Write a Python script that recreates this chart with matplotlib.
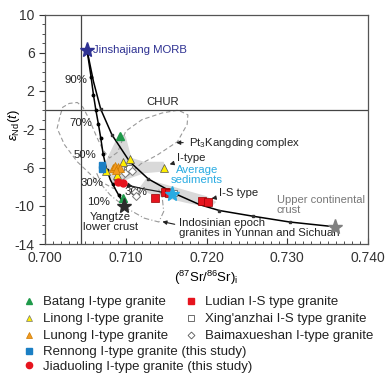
import numpy as np
import matplotlib
matplotlib.use("Agg")
import matplotlib.pyplot as plt
from matplotlib.lines import Line2D

plt.rcParams['font.family'] = ['Liberation Sans', 'DejaVu Sans']
plt.rcParams['axes.unicode_minus'] = False
plt.rcParams['mathtext.fontset'] = 'custom'
plt.rcParams['mathtext.rm'] = 'Liberation Sans'
plt.rcParams['mathtext.it'] = 'Liberation Sans:italic'

# ---- end members ----
morb = (0.7052, 6.3)
lower_crust = (0.7098, -10.0)
upper_crust = (0.7359, -12.2)
avg_sed = (0.7157, -8.8)

# ---- mixing curves ----
curveA_x = [0.7052, 0.7057, 0.7060, 0.7063, 0.7066, 0.7069, 0.7072, 0.7076, 0.7081, 0.7088, 0.7094, 0.7098]
curveA_y = [6.3, 3.5, 1.6, 0.0, -1.4, -2.9, -4.6, -6.1, -7.3, -8.4, -9.3, -10.0]
dotsA_x = [0.7057, 0.7060, 0.7063, 0.7066, 0.7069, 0.7072, 0.7077, 0.7084, 0.7092]
dotsA_y = [3.5, 1.6, 0.0, -1.4, -2.9, -4.6, -6.3, -7.7, -8.9]

curveC_x = [0.7052, 0.7060, 0.7069, 0.7083, 0.7105, 0.7128, 0.7160, 0.7192, 0.7216, 0.7258, 0.7303, 0.7359]
curveC_y = [6.3, 3.0, 0.1, -2.6, -5.4, -7.2, -8.7, -9.9, -10.5, -11.1, -11.7, -12.2]
dotsC_x = [0.7069, 0.7083, 0.7105, 0.7128, 0.7160, 0.7216, 0.7258, 0.7303]
dotsC_y = [0.1, -2.6, -5.4, -7.2, -8.7, -10.5, -11.1, -11.7]

curveD_x = [0.7086, 0.7100, 0.7120, 0.7140, 0.7157]
curveD_y = [-7.3, -7.8, -8.2, -8.5, -8.8]

# ---- fields ----
grey1_x = [0.7092, 0.7100, 0.7107, 0.7123, 0.7147, 0.7150, 0.7123, 0.7106, 0.7094, 0.7081, 0.7077, 0.7075, 0.7083]
grey1_y = [-2.4, -2.75, -5.0, -5.4, -5.4, -6.4, -6.6, -7.1, -7.6, -7.5, -6.4, -5.4, -4.0]
grey2_x = [0.7125, 0.7150, 0.7175, 0.7200, 0.7212, 0.7205, 0.7175, 0.7150, 0.7128, 0.7118]
grey2_y = [-7.2, -7.8, -8.4, -9.0, -9.6, -10.2, -9.7, -9.2, -8.7, -8.0]

kangding_x = [0.7019, 0.7022, 0.7030, 0.7040, 0.7047, 0.7055, 0.7064, 0.7072, 0.7080, 0.7090, 0.7100,
              0.7120, 0.7145, 0.7165, 0.7177, 0.7176, 0.7164, 0.7139, 0.7119, 0.7100, 0.7085, 0.7061,
              0.7040, 0.7024, 0.7015, 0.7019]
kangding_y = [-0.5, 0.3, 0.7, 0.8, 0.3, -1.0, -2.8, -4.2, -5.0, -4.4, -2.2,
              -1.0, -0.3, 0.0, -0.5, -1.5, -3.3, -4.7, -5.6, -7.0, -8.2, -7.1,
              -5.4, -3.6, -1.9, -0.5]
indo_x = [0.7064, 0.7071, 0.7081, 0.7102, 0.7123, 0.7141, 0.7147, 0.7145, 0.7140]
indo_y = [-6.6, -7.9, -8.9, -10.3, -11.3, -11.7, -10.6, -9.0, -8.2]

# ---- samples ----
batang_x = [0.7093, 0.7097]
batang_y = [-2.75, -9.2]
linong_x = [0.7076, 0.7089, 0.7097, 0.7105, 0.7147]
linong_y = [-6.35, -6.8, -5.45, -5.1, -6.05]
lunong_x = [0.7084, 0.7087, 0.7090, 0.7093, 0.7088]
lunong_y = [-6.05, -5.8, -5.9, -6.0, -6.3]
rennong_x = [0.7071, 0.7071]
rennong_y = [-5.7, -6.2]
jiaduoling_x = [0.7090, 0.7096]
jiaduoling_y = [-7.5, -7.65]
ludian_x = [0.7136, 0.7148, 0.7153, 0.7195, 0.7202]
ludian_y = [-9.15, -8.6, -8.7, -9.5, -9.65]
xing_x = [0.7101, 0.7104, 0.7155, 0.7160]
xing_y = [-6.3, -6.0, -8.5, -8.7]
baima_x = [0.7099, 0.7108, 0.7111, 0.7113]
baima_y = [-6.6, -6.4, -8.6, -9.0]

col_batang = '#1f9a4a'
col_linong = '#ffee00'
col_lunong = '#f39a1e'
col_rennong = '#1b7fc4'
col_red = '#e6141e'

fig = plt.figure(figsize=(3.89, 3.78), dpi=100)
ax = fig.add_axes([45 / 389, 1 - 244 / 378, 323 / 389, 229.5 / 378])

ax.fill(grey1_x, grey1_y, color='#d9d9d9', lw=0, zorder=1)
ax.fill(grey2_x, grey2_y, color='#d9d9d9', lw=0, zorder=1)
ax.plot(kangding_x, kangding_y, color='#999999', ls=(0, (4, 2.5)), lw=0.8, zorder=2)
ax.plot(indo_x, indo_y, color='#999999', ls=(0, (5, 2, 1, 2)), lw=0.8, zorder=2)

ax.axvline(0.7044, color='#444444', lw=0.9, zorder=2)
ax.axhline(0, color='#444444', lw=0.9, zorder=2)

ax.plot(curveA_x, curveA_y, color='k', lw=1.1, zorder=3)
ax.plot(dotsA_x, dotsA_y, 'o', color='k', ms=1.8, zorder=3)
ax.plot(curveC_x, curveC_y, color='k', lw=1.1, zorder=3)
ax.plot(dotsC_x, dotsC_y, 's', color='#333333', ms=1.8, zorder=3)
ax.plot(curveD_x, curveD_y, color='#222222', lw=0.9, zorder=3)
ax.annotate('', xy=(0.7112, -8.05), xytext=(0.7100, -7.8),
            arrowprops=dict(arrowstyle='-|>', color='#222222', lw=0.8, mutation_scale=7), zorder=3)

# samples
mk = dict(linestyle='none', zorder=5)
ax.plot(xing_x, xing_y, 's', mfc='white', mec='#777777', mew=0.7, ms=4.5, **mk)
ax.plot(baima_x, baima_y, 'D', mfc='white', mec='#777777', mew=0.7, ms=3.8, **mk)
ax.plot(batang_x, batang_y, '^', mfc=col_batang, mec=col_batang, ms=6, **mk)
ax.plot(linong_x, linong_y, '^', mfc=col_linong, mec='#555555', mew=0.5, ms=6, **mk)
ax.plot(lunong_x, lunong_y, '^', mfc=col_lunong, mec='#cc7a00', mew=0.5, ms=6, **mk)
ax.plot(rennong_x, rennong_y, 's', mfc=col_rennong, mec=col_rennong, ms=5, **mk)
ax.plot(jiaduoling_x, jiaduoling_y, 'o', mfc=col_red, mec=col_red, ms=5, **mk)
ax.plot(ludian_x, ludian_y, 's', mfc=col_red, mec='#990000', mew=0.5, ms=6, **mk)

# end-member stars
ax.plot(*morb, '*', color='#2e3192', ms=11, zorder=6)
ax.plot(*lower_crust, '*', color='#2b2b2b', ms=11, zorder=6)
ax.plot(*upper_crust, '*', color='#808080', ms=11, zorder=6)
ax.plot(*avg_sed, '*', color='#29abe2', ms=11, zorder=6)

fs = 8.2
ax.text(0.7060, 6.3, 'Jinshajiang MORB', color='#2e3192', fontsize=fs, va='center', ha='left')
ax.text(0.7146, 0.35, 'CHUR', fontsize=fs, ha='center', va='bottom', color='#222222')
for lab, lx, ly in [('90%', 0.7053, 3.2), ('70%', 0.7058, -1.35), ('50%', 0.7063, -4.7),
                    ('30%', 0.7072, -7.6), ('10%', 0.7081, -9.6)]:
    ax.text(lx, ly, lab, fontsize=fs, ha='right', va='center', color='#222222')
ax.text(0.7098, -8.6, '30%', fontsize=fs, ha='left', va='center', color='#222222')
ax.text(0.7081, -11.75, 'Yangtze\nlower crust', fontsize=fs, ha='center', va='center',
        linespacing=1.0, color='#222222')
ax.text(0.7188, -6.8, 'Average\nsediments', fontsize=fs, ha='center', va='center',
        linespacing=1.0, color='#29abe2')
ax.text(0.7287, -9.95, 'Upper continental\ncrust', fontsize=8, ha='left', va='center',
        linespacing=1.0, color='#777777')
ax.text(0.7166, -12.3, 'Indosinian epoch\ngranites in Yunnan and Sichuan', fontsize=fs,
        ha='left', va='center', linespacing=1.0, color='#222222')

arr = dict(arrowstyle='-|>', color='#222222', lw=0.8, mutation_scale=6)
ax.annotate('Pt$_3$Kangding complex', xy=(0.7159, -3.4), xytext=(0.7178, -3.4),
            fontsize=fs, va='center', ha='left', arrowprops=arr, color='#222222')
ax.annotate('I-type', xy=(0.7151, -5.75), xytext=(0.7164, -5.0),
            fontsize=fs, va='center', ha='left', arrowprops=arr, color='#222222')
ax.annotate('I-S type', xy=(0.7203, -9.3), xytext=(0.7215, -8.7),
            fontsize=fs, va='center', ha='left', arrowprops=arr, color='#222222')
ax.annotate('', xy=(0.7142, -11.6), xytext=(0.7164, -12.0), arrowprops=arr)

ax.set_xlim(0.700, 0.740)
ax.set_ylim(-14, 10)
ax.set_xticks([0.700, 0.710, 0.720, 0.730, 0.740])
ax.set_xticklabels(['0.700', '0.710', '0.720', '0.730', '0.740'])
ax.set_xticks(np.arange(0.700, 0.7401, 0.001), minor=True)
ax.set_yticks([10, 6, 2, -2, -6, -10, -14])
ax.set_yticks(np.arange(-14, 11, 1), minor=True)
ax.tick_params(axis='x', which='both', direction='in', labelsize=10, pad=5, colors='#333333')
ax.tick_params(axis='x', which='major', length=4)
ax.tick_params(axis='x', which='minor', length=2)
ax.tick_params(axis='y', which='both', direction='out', labelsize=10, colors='#333333')
ax.tick_params(axis='y', which='major', length=4)
ax.tick_params(axis='y', which='minor', length=2)
for s in ax.spines.values():
    s.set_color('#555555')
    s.set_linewidth(0.9)

ax.set_xlabel(r'($^{87}$Sr/$^{86}$Sr)$_\mathrm{i}$', fontsize=9.5, labelpad=3)
ax.set_ylabel(r'$\varepsilon_{\mathrm{Nd}}\mathit{(t)}$', fontsize=9.5)
ax.yaxis.set_label_coords(-0.072, 0.52)

# ---- legend ----
lkw = dict(linestyle='none', markersize=4.5)
h_batang = Line2D([], [], marker='^', mfc=col_batang, mec=col_batang, **lkw)
h_linong = Line2D([], [], marker='^', mfc=col_linong, mec='#777777', mew=0.5, **lkw)
h_lunong = Line2D([], [], marker='^', mfc=col_lunong, mec='#cc7a00', mew=0.5, **lkw)
h_ludian = Line2D([], [], marker='s', mfc=col_red, mec=col_red, **lkw)
h_xing = Line2D([], [], marker='s', mfc='white', mec='#555555', mew=0.6, **lkw)
h_baima = Line2D([], [], marker='D', mfc='white', mec='#555555', mew=0.6, linestyle='none', markersize=3.5)
h_renn = Line2D([], [], marker='s', mfc=col_rennong, mec=col_rennong, **lkw)
h_jiad = Line2D([], [], marker='o', mfc=col_red, mec=col_red, **lkw)

legend_labels = ['Batang I-type granite', 'Linong I-type granite', 'Lunong I-type granite',
                 'Ludian I-S type granite', "Xing'anzhai I-S type granite", 'Baimaxueshan I-type granite']
leg1 = fig.legend([h_batang, h_linong, h_lunong, h_ludian, h_xing, h_baima], legend_labels,
                  ncol=2, loc='upper left', bbox_to_anchor=(22 / 389, 1 - 296 / 378),
                  frameon=False, fontsize=9.5, handlelength=1.0, handletextpad=0.6,
                  columnspacing=1.2, labelspacing=0.36, borderaxespad=0, borderpad=0)
leg2 = fig.legend([h_renn, h_jiad], ['Rennong I-type granite (this study)',
                                     'Jiaduoling I-type granite (this study)'],
                  loc='upper left', bbox_to_anchor=(22 / 389, 1 - 346 / 378),
                  frameon=False, fontsize=9.5, handlelength=1.0, handletextpad=0.6,
                  labelspacing=0.2, borderaxespad=0, borderpad=0)
for lg in (leg1, leg2):
    for t in lg.get_texts():
        t.set_color('#222222')

fig.savefig('out.png', dpi=100)
